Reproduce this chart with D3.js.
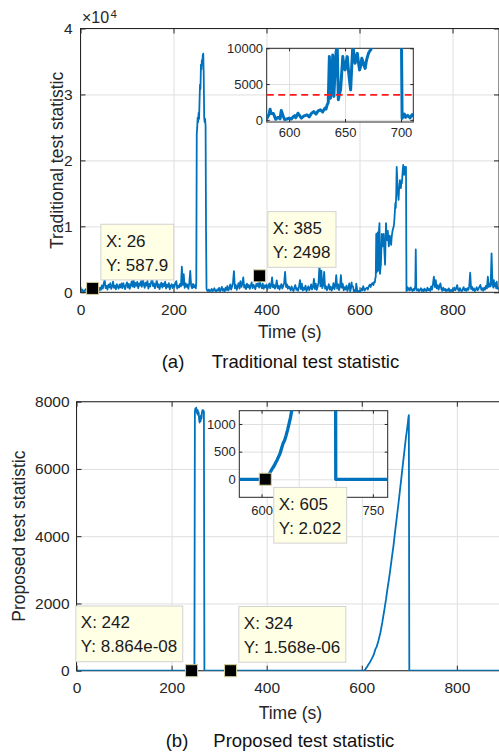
<!DOCTYPE html>
<html>
<head>
<meta charset="utf-8">
<script src="https://cdn.jsdelivr.net/npm/d3@7"></script>
<style>
  body { margin: 0; background: #fff; }
  svg { display: block; }
</style>
</head>
<body>
<div id="chart"></div>
<script>
// ---- data ----
const xTicks = [0, 200, 400, 600, 800];
const tradYTicks = [0, 10000, 20000, 30000, 40000];
const propYTicks = [0, 2000, 4000, 6000, 8000];
const tradInsetXTicks = [600, 650, 700];
const tradInsetYTicks = [0, 5000, 10000];
const propInsetXTicks = [600, 650, 700, 750];
const propInsetXLabels = [600, 750];   // 650 and 700 sit under the data tip
const propInsetYTicks = [0, 500, 1000];
const tradThreshold = 3500;

// traditional test statistic, [time, value]
const tradPoints = [
  [0,150],[2,60],[4,420],[6,180],[8,90],[10,350],[12,520],[14,210],[16,80],[18,300],[20,640],[22,260],[24,120],[26,587.9],[28,400],[30,150],[32,230],[34,480],[36,190],[38,90],[40,310],
  [42,720],[44,380],[46,1050],[48,560],[50,1320],[52,1860],[54,640],[56,980],[58,420],[60,1150],[62,760],[64,1380],[66,520],[68,890],[70,1600],[72,680],[74,1020],[76,450],[78,1240],[80,830],
  [82,560],[84,1180],[86,740],[88,1350],[90,620],[92,1400],[94,910],[96,480],[98,1120],[100,1500],[102,700],[104,1260],[106,530],[108,1080],[110,1640],[112,860],[114,2120],[116,760],[118,1420],[120,980],
  [122,1580],[124,620],[126,1350],[128,1020],[130,1700],[132,840],[134,2100],[136,1190],[138,680],[140,1460],[142,1020],[144,1740],[146,560],[148,1280],[150,880],[152,1560],[154,2370],[156,940],[158,1340],[160,620],
  [162,1180],[164,1800],[166,760],[168,1240],[170,500],[172,1080],[174,1460],[176,720],[178,1320],[180,940],[182,1620],[184,580],[186,1150],[188,820],[190,1380],[192,460],[194,980],[196,1240],[198,640],[200,1120],
  [202,780],[204,1460],[206,1700],[208,560],[210,1020],[212,740],[214,1280],[216,900],[218,3880],[220,1100],[222,2770],[224,680],[226,1360],[228,820],[230,1180],[232,540],[234,1420],[236,3230],[238,960],[240,620],
  [242,1280],[244,740],[246,1080],[248,600],[249,1500],
  [250,24000],[251,25000],[252,26500],[253,25800],[254,27200],[255,26300],[256,29000],[257,31500],[258,30800],[259,34500],[260,33800],[261,35200],[262,34600],[263,36000],[264,36200],[265,33000],[266,26500],[267,25800],[268,26300],[269,25200],[270,9000],[271,600],
  [272,300],[274,180],[276,420],[278,150],[280,260],[282,520],[284,120],[286,340],[288,610],[290,220],[292,90],[294,450],[296,280],[298,680],[300,160],[302,390],[304,820],[306,240],[308,510],[310,130],
  [312,700],[314,360],[316,950],[318,280],[320,560],[322,1200],[324,420],[326,880],[328,1500],[330,3200],[332,640],[334,1100],[336,380],[338,920],[340,1400],[342,560],[344,1700],[346,820],[348,1250],[350,2270],
  [352,700],[354,1080],[356,480],[358,1320],[360,760],[362,1100],[364,520],[366,980],[368,1500],[370,620],[372,1150],[374,840],[376,480],[378,1260],[380,920],[382,1400],[384,700],[386,1600],[388,980],[390,620],
  [392,1300],[394,540],[396,1050],[398,760],[400,1180],[402,480],[404,920],[406,1340],[408,620],[410,1000],[412,2270],[414,740],[416,1120],[418,560],[420,880],[422,1800],[424,640],[426,1020],[428,420],[430,860],
  [432,1240],[434,580],[436,940],[438,1460],[440,3100],[442,820],[444,1200],[446,540],[448,900],
  [450,620],[452,300],[454,880],[456,420],[458,180],[460,740],[462,1100],[464,360],[466,620],[468,240],[470,900],[472,1860],[474,480],[476,1300],[478,260],[480,700],[482,420],[484,1020],[486,180],[488,560],
  [490,900],[492,320],[494,640],[496,1200],[498,420],[500,780],[502,2050],[504,500],[506,1300],[508,380],[510,860],[512,1500],[514,4200],[516,900],[518,3300],[520,640],[522,1100],[524,3100],[526,560],[528,920],
  [530,320],[532,700],[534,1240],[536,420],[538,880],[540,260],[542,640],[544,1400],[546,480],[548,980],[550,2600],[552,560],[554,1200],[556,340],[558,820],[560,2600],[562,700],[564,1280],[566,300],[568,760],
  [570,420],[572,1000],[574,220],[576,640],[578,1360],[580,150],[582,700],[583,1490],[584,900],[586,900],[588,80],[590,350],[592,180],[593,1300],[595,400],[596,50],[598,120],
  [600,250],[602,120],[604,480],[605,580],[606,300],[608,930],[610,450],[611,250],[613,520],[616,700],[618,420],[620,900],[622,1160],[624,800],[626,1250],[628,1400],[630,1100],[632,1630],[633,1500],[634,2100],
  [635,2400],[636,8840],[637,3030],[638,5200],[639,9070],[640,3260],[641,6500],[642,9500],[643,10500],[644,2800],[645,3600],[646,4190],[647,6500],[648,8840],[649,7500],[650,6980],[651,8000],[652,8840],[653,7000],[654,5500],
  [655,4190],[656,7500],[657,10500],[658,9000],[659,7900],[660,8800],[661,9300],[662,8000],[663,6980],[664,7500],[665,8600],[666,8100],[667,7600],[668,7200],[669,8200],[670,8800],[671,9300],[672,9600],[673,9800],[674,10200],
  [675,11000],[676,12200],[677,13500],[678,12800],[679,15000],[680,19000],[681,17500],[682,15500],[683,14800],[684,14000],[685,15500],[686,16200],[687,17000],[688,16400],[689,15800],[690,16800],[691,16500],[692,17500],[693,18500],[694,19300],
  [695,18200],[696,17800],[697,19000],[698,18800],[699,18500],[700,19000],[701,200],
  [702,500],[703,800],[704,350],[706,620],[708,280],[710,750],[712,400],[714,180],[716,520],[718,300],[720,900],[721,6500],[722,600],[724,250],[726,480],[728,160],[730,380],[732,620],[734,200],[736,440],
  [738,120],[740,560],[742,300],[744,180],[746,700],[748,320],[750,520],[752,200],[754,880],[756,400],[758,1300],[760,2360],[762,800],[764,1860],[766,600],[768,1100],[770,400],[772,900],[774,1360],[776,500],
  [778,240],[780,700],[782,300],[784,520],[786,160],[788,420],[790,220],[792,600],[794,180],[796,350],[798,120],[800,480],[802,260],[804,700],[806,320],[808,560],[810,1100],[812,380],[814,200],[816,640],
  [818,300],[820,150],[822,460],[824,780],[826,280],[828,520],[830,200],[832,640],[834,360],[836,900],[838,2970],[840,500],[842,820],[844,300],[846,600],[848,180],[850,420],[852,760],[854,300],[856,540],
  [858,860],[860,1100],[862,380],[864,620],[866,240],[868,700],[870,400],[872,980],[874,600],[876,2360],[878,800],[880,1300],[882,900],[884,5900],[886,1200],[888,700],[889,1860],[890,900],[892,1400],[894,600],
  [895,1600],[896,900],[898,500],[900,700]
];

// proposed test statistic, [time, value]
const propPoints = [
  [0,0],[100,0],[200,0],[242,8.864e-08],[248,0],
  [249,7700],[250,7800],[251,7750],[252,7820],[253,7700],[254,7640],[255,7750],[256,7600],[257,7680],[258,7450],[259,7380],[260,7550],[261,7420],[262,7600],[263,7500],[264,7700],[265,7750],[266,7680],[267,7740],[268,7700],
  [269,0],[324,1.568e-06],[400,0],[500,0],[603,0],[605,2.022],
  [607,30],[609,75],[611,110],[613,160],[615,205],[617,245],[619,300],[621,350],[623,410],[625,470],[627,560],[629,650],[631,700],[633,790],[635,890],[637,1000],[639,1120],[641,1270],[643,1420],[645,1600],
  [647,1760],[649,1950],[651,2120],[653,2330],[655,2520],[657,2700],[659,2900],[661,3120],[663,3330],[665,3540],[667,3750],[669,4000],[671,4250],[673,4480],[675,4720],[677,4950],[679,5200],[681,5450],[683,5700],[685,5950],
  [687,6200],[689,6450],[691,6700],[693,6950],[695,7150],[697,7380],[698,7520],[699,7600],[700,0],[800,0],[900,0]
];

// data tips: [x, y]
const tradTips = [[26, 587.9], [385, 2498]];
const propTips = [[242, 8.864e-08], [324, 1.568e-06]];
const propInsetTip = [605, 2.022];

// ---- drawing ----
const FONT = '"Liberation Sans", Arial, Helvetica, sans-serif';
const BLUE = "#0072BD";
const INK = "#262626";

const svg = d3.select("#chart").append("svg")
    .attr("width", 499).attr("height", 756)
    .style("font-family", FONT);

const xA = d3.scaleLinear().domain([0, 900]).range([80.5, 499]);
const yA = d3.scaleLinear().domain([0, 40000]).range([292.3, 28.5]);
const xAi = d3.scaleLinear().domain([580, 711]).range([266.7, 413.3]);
const yAi = d3.scaleLinear().domain([-300, 10000]).range([122, 48.3]);

const xB = d3.scaleLinear().domain([0, 900]).range([76.5, 504.4]);
const yB = d3.scaleLinear().domain([0, 8000]).range([670.7, 401.7]);
const xBi = d3.scaleLinear().domain([570, 770]).range([239.3, 387.7]);
const yBi = d3.scaleLinear().domain([-325, 1240]).range([497.3, 410.7]);

let clipId = 0;

function styleAxis(s, font) {
    s.attr("font-family", null).attr("font-size", null);
    s.select(".domain").remove();
    s.selectAll("line").attr("stroke", INK);
    s.selectAll("text").attr("font-family", FONT).attr("font-size", font).attr("fill", INK);
}

function axesFrame(g, x, y, xt, yt, o) {
    const [l, r] = x.range(), [b, t] = y.range();
    g.append("rect").attr("x", l).attr("y", t).attr("width", r - l).attr("height", b - t).attr("fill", "#fff");

    // grid
    g.append("g").attr("transform", `translate(0,${b})`)
        .call(d3.axisBottom(x).tickValues(xt).tickSize(-(b - t)).tickFormat(""))
        .call(s => s.select(".domain").remove())
        .call(s => s.selectAll("line").attr("stroke", "#dfdfdf"));
    g.append("g").attr("transform", `translate(${l},0)`)
        .call(d3.axisLeft(y).tickValues(yt).tickSize(-(r - l)).tickFormat(""))
        .call(s => s.select(".domain").remove())
        .call(s => s.selectAll("line").attr("stroke", "#dfdfdf"));

    // ticks and labels, MATLAB style (ticks inside, box on)
    g.append("g").attr("transform", `translate(0,${b})`)
        .call(d3.axisBottom(x).tickValues(xt).tickSizeInner(-o.tick).tickSizeOuter(0).tickPadding(o.xPad).tickFormat(o.xFormat || d3.format("d")))
        .call(s => styleAxis(s, o.font));
    g.append("g").attr("transform", `translate(0,${t})`)
        .call(d3.axisTop(x).tickValues(xt).tickSizeInner(-o.tick).tickSizeOuter(0).tickFormat(""))
        .call(s => styleAxis(s, o.font));
    g.append("g").attr("transform", `translate(${l},0)`)
        .call(d3.axisLeft(y).tickValues(yt).tickSizeInner(-o.tick).tickSizeOuter(0).tickPadding(o.yPad).tickFormat(o.yFormat || d3.format("d")))
        .call(s => styleAxis(s, o.font));
    g.append("g").attr("transform", `translate(${r},0)`)
        .call(d3.axisRight(y).tickValues(yt).tickSizeInner(-o.tick).tickSizeOuter(0).tickFormat(""))
        .call(s => styleAxis(s, o.font));

    g.append("rect").attr("x", l).attr("y", t).attr("width", r - l).attr("height", b - t)
        .attr("fill", "none").attr("stroke", INK).attr("stroke-width", 1);
}

function plotLine(g, x, y, pts, width) {
    const [l, r] = x.range(), [b, t] = y.range();
    const id = "clip" + (clipId++);
    svg.append("clipPath").attr("id", id).append("rect")
        .attr("x", l).attr("y", t).attr("width", r - l).attr("height", b - t);
    const line = d3.line().x(d => x(d[0])).y(d => y(d[1]));
    return g.append("path").datum(pts)
        .attr("clip-path", `url(#${id})`)
        .attr("fill", "none").attr("stroke", BLUE)
        .attr("stroke-width", width).attr("stroke-linejoin", "round")
        .attr("d", line);
}

function fmtTip(v) {
    if (v !== 0 && Math.abs(v) < 1e-3) {
        const [m, e] = v.toExponential(3).split("e");
        const n = parseInt(e, 10);
        return m + "e" + (n < 0 ? "-" : "+") + String(Math.abs(n)).padStart(2, "0");
    }
    return d3.format(".4~g")(v);
}

function dataTip(g, x, y, d, corner) {
    const px = x(d[0]), py = y(d[1]);
    const tip = g.append("g");
    const box = tip.append("rect").attr("fill", "#ffffe6").attr("stroke", "#d2d2d2").attr("stroke-width", 1);
    const lines = ["X: " + fmtTip(d[0]), "Y: " + fmtTip(d[1])];
    const texts = tip.selectAll("text").data(lines).join("text")
        .attr("font-family", FONT).attr("font-size", 17).attr("fill", "#1a1a1a")
        .text(s => s);
    const w = d3.max(texts.nodes(), n => n.getComputedTextLength()) + 10.5;
    const h = 55.7;
    let bx, by;
    if (corner === "ur") { bx = px + 8.3; by = py - 8.5 - h; }
    else if (corner === "ul") { bx = px - 8.8 - w; by = py - 9 - h; }
    else { bx = px + 8.5; by = py + 8.2; }
    box.attr("x", bx).attr("y", by).attr("width", w).attr("height", h);
    texts.attr("x", bx + 5).attr("y", (s, i) => by + 22.4 + i * 24);
    tip.append("rect").attr("x", px - 6).attr("y", py - 6).attr("width", 12).attr("height", 12)
        .attr("fill", "#000").attr("stroke", "#d6cf9c").attr("stroke-width", 1);
}

// ---- panel (a) ----
const gA = svg.append("g");
axesFrame(gA, xA, yA, xTicks, tradYTicks, { tick: 5, font: 15.5, xPad: 11.7, yPad: 7.8, yFormat: d => d / 10000 });
plotLine(gA, xA, yA, tradPoints, 1.8);

gA.append("text").attr("x", 82).attr("y", 23.3).attr("font-size", 16).attr("fill", INK).text("\u00d710");
gA.append("text").attr("x", 110.5).attr("y", 17.5).attr("font-size", 11.5).attr("fill", INK).text("4");

gA.append("text").attr("transform", "translate(62.5,160.4) rotate(-90)").attr("text-anchor", "middle")
    .attr("font-size", 17.5).attr("fill", INK).text("Traditional test statistic");
gA.append("text").attr("x", (xA.range()[0] + xA.range()[1]) / 2).attr("y", 338.3).attr("text-anchor", "middle")
    .attr("font-size", 17.5).attr("fill", INK).text("Time (s)");

// inset (a)
const gAi = svg.append("g");
axesFrame(gAi, xAi, yAi, tradInsetXTicks, tradInsetYTicks, { tick: 3, font: 13, xPad: 5.3, yPad: 3.6 });
plotLine(gAi, xAi, yAi, tradPoints, 3);
gAi.append("line")
    .attr("x1", xAi(580)).attr("x2", xAi(711))
    .attr("y1", yAi(tradThreshold)).attr("y2", yAi(tradThreshold))
    .attr("stroke", "#ff1a1a").attr("stroke-width", 1.8).attr("stroke-dasharray", "7,4.5");

dataTip(svg, xA, yA, tradTips[0], "ur");
dataTip(svg, xA, yA, tradTips[1], "ur");

svg.append("text").attr("x", 161.7).attr("y", 368.3).attr("font-size", 18.5).attr("fill", "#111").text("(a)");
svg.append("text").attr("x", 211.7).attr("y", 368.3).attr("font-size", 18.5).attr("fill", "#111").text("Traditional test statistic");

// ---- panel (b) ----
const gB = svg.append("g");
axesFrame(gB, xB, yB, xTicks, propYTicks, { tick: 5, font: 15.5, xPad: 11.7, yPad: 7 });
plotLine(gB, xB, yB, propPoints, 1.8);

gB.append("text").attr("transform", "translate(25,536.2) rotate(-90)").attr("text-anchor", "middle")
    .attr("font-size", 17.5).attr("fill", INK).text("Proposed test statistic");
gB.append("text").attr("x", (xB.range()[0] + xB.range()[1]) / 2).attr("y", 719).attr("text-anchor", "middle")
    .attr("font-size", 17.5).attr("fill", INK).text("Time (s)");

// inset (b)
const gBi = svg.append("g");
axesFrame(gBi, xBi, yBi, propInsetXTicks, propInsetYTicks, {
    tick: 3, font: 13, xPad: 8.5, yPad: 3.5,
    xFormat: d => propInsetXLabels.includes(d) ? String(d) : ""
});
plotLine(gBi, xBi, yBi, propPoints, 3.3);

dataTip(svg, xBi, yBi, propInsetTip, "lr");
dataTip(svg, xB, yB, propTips[0], "ul");
dataTip(svg, xB, yB, propTips[1], "ur");

svg.append("text").attr("x", 165.7).attr("y", 747).attr("font-size", 18.5).attr("fill", "#111").text("(b)");
svg.append("text").attr("x", 213.3).attr("y", 747).attr("font-size", 18.5).attr("fill", "#111").text("Proposed test statistic");
</script>
</body>
</html>
